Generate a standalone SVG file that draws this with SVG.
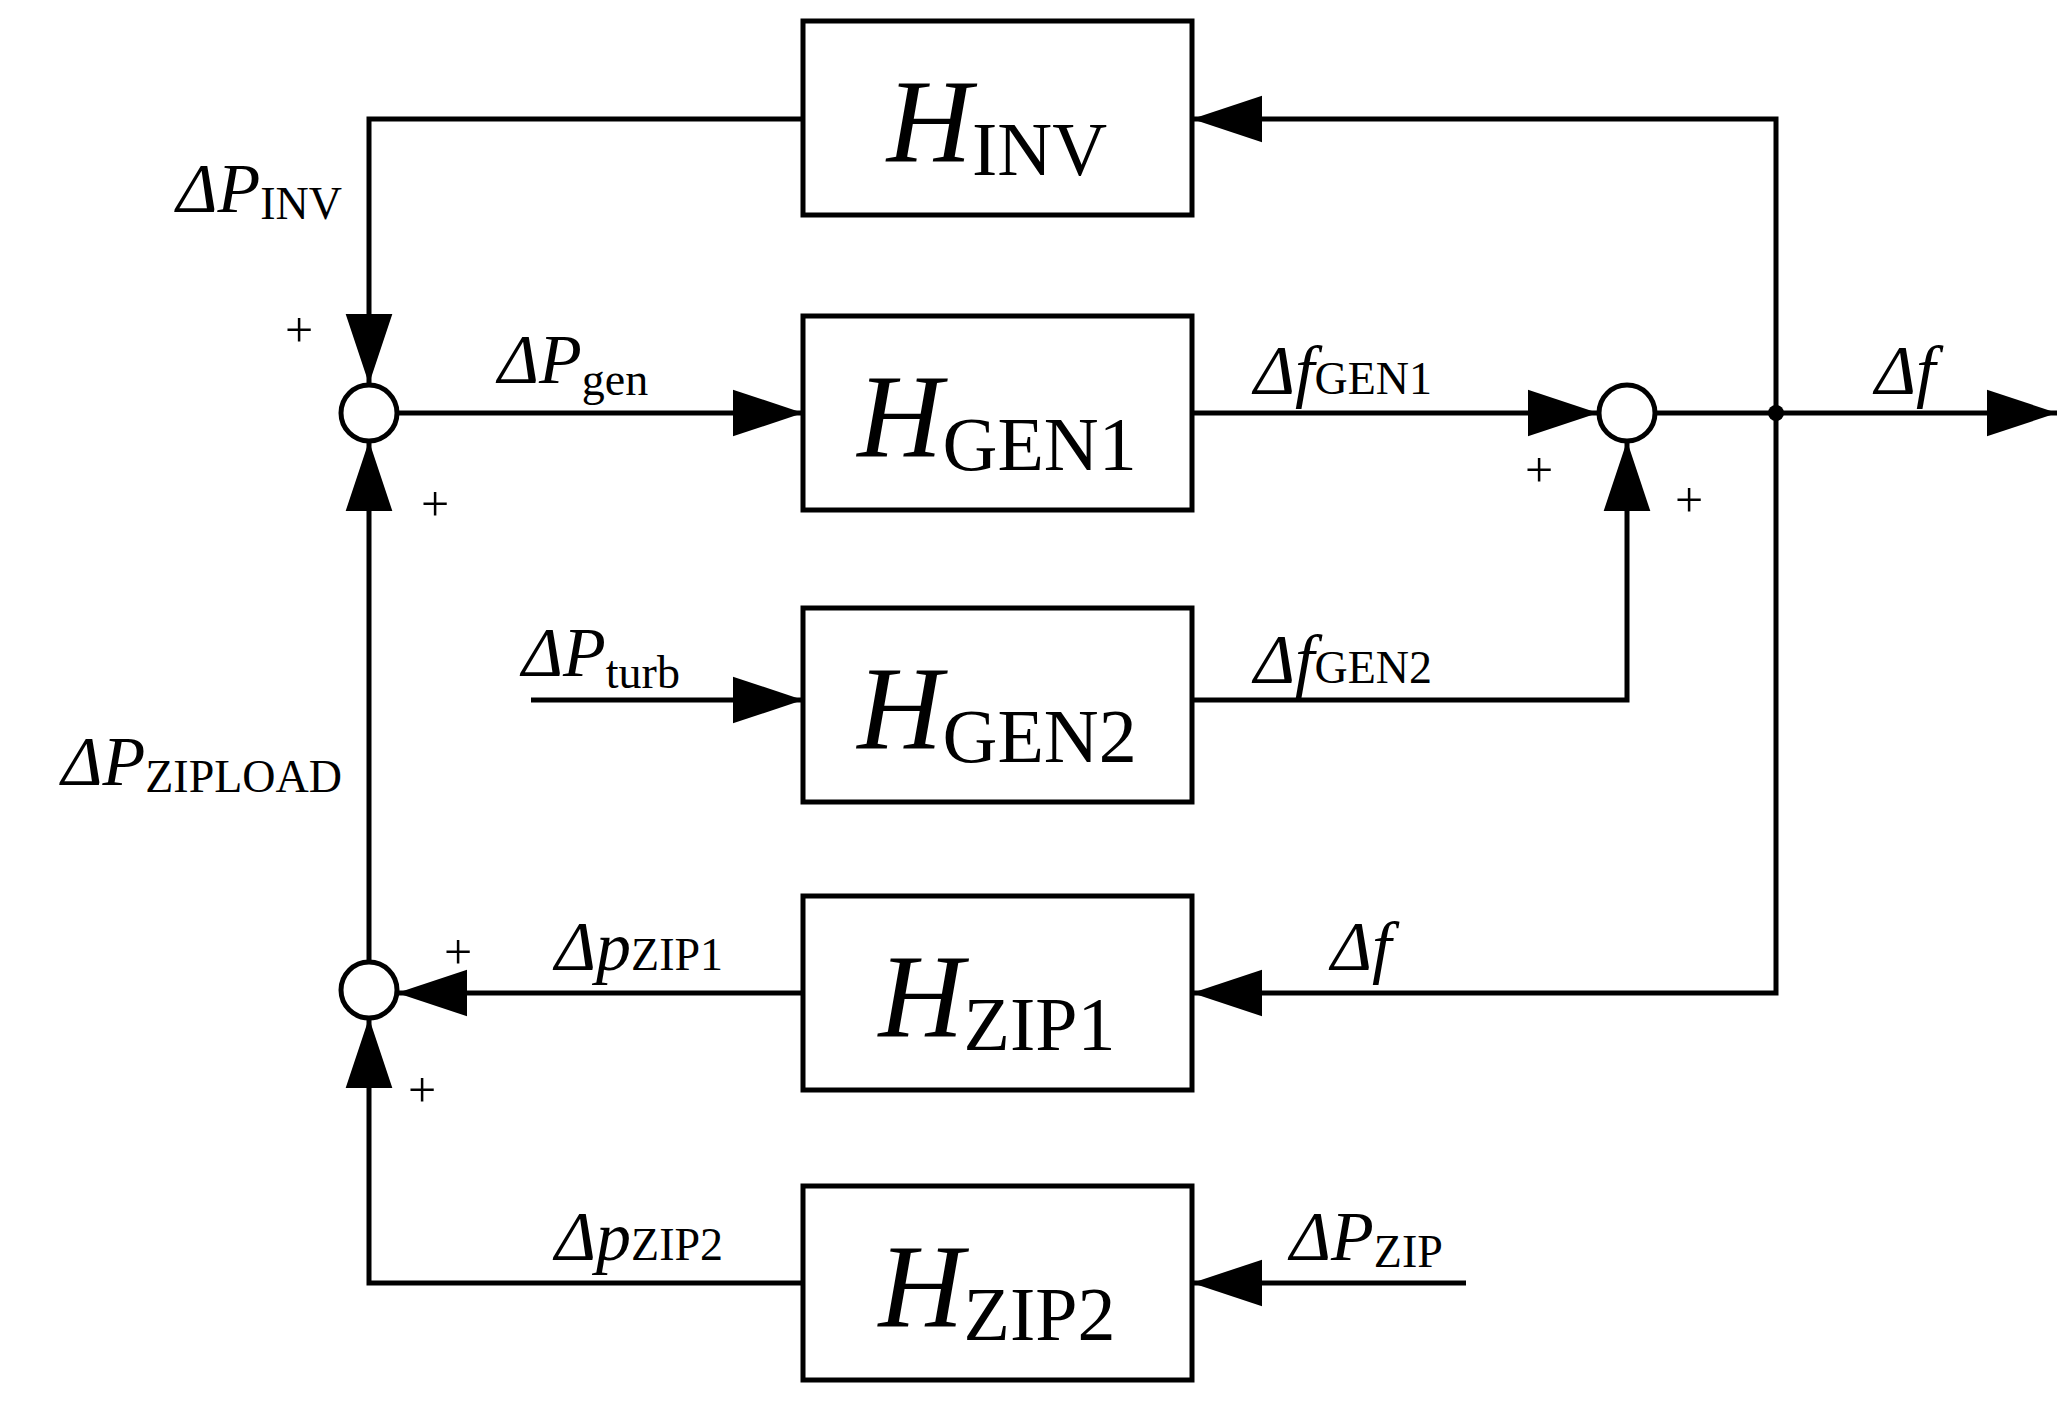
<svg xmlns="http://www.w3.org/2000/svg" width="2070" height="1406" viewBox="0 0 2070 1406">
<style>
.b{fill:#fff;stroke:#000;stroke-width:5}
.l{fill:none;stroke:#000;stroke-width:5;stroke-linejoin:miter}
.s{fill:#fff;stroke:#000;stroke-width:5}
text{font-family:"Liberation Serif","Times New Roman",serif;fill:#000}
.H{font-size:118px;font-style:italic}
.hs{font-size:76px;font-style:normal}
.v{font-size:70px;font-style:italic}
.vs{font-size:46px;font-style:normal}
.p{font-size:50px}
</style>
<defs>
<marker id="a" markerUnits="userSpaceOnUse" markerWidth="70" markerHeight="50" viewBox="0 0 66 44" refX="66" refY="22" orient="auto"><path d="M0,0L66,22L0,44Z" fill="#000"/></marker>
</defs>
<rect width="2070" height="1406" fill="#fff"/>
<g id="connectors">
<path class="l" d="M803,119H369V384" marker-end="url(#a)"/>
<path class="l" d="M397,413H803" marker-end="url(#a)"/>
<path class="l" d="M1192,413H1598" marker-end="url(#a)"/>
<path class="l" d="M1654,413H2057" marker-end="url(#a)"/>
<path class="l" d="M1776,413V119H1192" marker-end="url(#a)"/>
<path class="l" d="M1776,413V993H1192" marker-end="url(#a)"/>
<path class="l" d="M531,700H803" marker-end="url(#a)"/>
<path class="l" d="M1192,700H1627V441" marker-end="url(#a)"/>
<path class="l" d="M803,993H397" marker-end="url(#a)"/>
<path class="l" d="M369,962V441" marker-end="url(#a)"/>
<path class="l" d="M803,1283H369V1018" marker-end="url(#a)"/>
<path class="l" d="M1466,1283H1192" marker-end="url(#a)"/>
<circle cx="1776" cy="413" r="8" fill="#000"/>
</g>
<g id="sum1"><circle class="s" cx="369" cy="413" r="28"/></g>
<g id="sum2"><circle class="s" cx="1627" cy="413" r="28"/></g>
<g id="sum3"><circle class="s" cx="369" cy="990" r="28"/></g>
<g id="HINV"><rect class="b" x="803" y="21" width="389" height="194"/><text class="H" x="997" y="161" text-anchor="middle">H<tspan class="hs" dy="14">INV</tspan></text></g>
<g id="HGEN1"><rect class="b" x="803" y="316" width="389" height="194"/><text class="H" x="997" y="456" text-anchor="middle">H<tspan class="hs" dy="14">GEN1</tspan></text></g>
<g id="HGEN2"><rect class="b" x="803" y="608" width="389" height="194"/><text class="H" x="997" y="748" text-anchor="middle">H<tspan class="hs" dy="14">GEN2</tspan></text></g>
<g id="HZIP1"><rect class="b" x="803" y="896" width="389" height="194"/><text class="H" x="997" y="1036" text-anchor="middle">H<tspan class="hs" dy="14">ZIP1</tspan></text></g>
<g id="HZIP2"><rect class="b" x="803" y="1186" width="389" height="194"/><text class="H" x="997" y="1326" text-anchor="middle">H<tspan class="hs" dy="14">ZIP2</tspan></text></g>
<g id="labels">
<text class="v" x="342" y="212" text-anchor="end">ΔP<tspan class="vs" dy="7">INV</tspan></text>
<text class="v" x="498" y="383">ΔP<tspan class="vs" dy="12">gen</tspan></text>
<text class="v" x="342" y="785" text-anchor="end">ΔP<tspan class="vs" dy="7">ZIPLOAD</tspan></text>
<text class="v" x="522" y="676">ΔP<tspan class="vs" dy="12">turb</tspan></text>
<text class="v" x="1254" y="394">Δf<tspan class="vs" dy="0">GEN1</tspan></text>
<text class="v" x="1875" y="394">Δf</text>
<text class="v" x="1254" y="683">Δf<tspan class="vs">GEN2</tspan></text>
<text class="v" x="555" y="970">Δp<tspan class="vs">ZIP1</tspan></text>
<text class="v" x="1331" y="970">Δf</text>
<text class="v" x="555" y="1260">Δp<tspan class="vs">ZIP2</tspan></text>
<text class="v" x="1290" y="1260">ΔP<tspan class="vs" dy="7">ZIP</tspan></text>
<text class="p" x="299" y="347" text-anchor="middle">+</text>
<text class="p" x="435" y="521" text-anchor="middle">+</text>
<text class="p" x="1539" y="487" text-anchor="middle">+</text>
<text class="p" x="1689" y="517" text-anchor="middle">+</text>
<text class="p" x="458" y="969" text-anchor="middle">+</text>
<text class="p" x="422" y="1107" text-anchor="middle">+</text>
</g>
</svg>
